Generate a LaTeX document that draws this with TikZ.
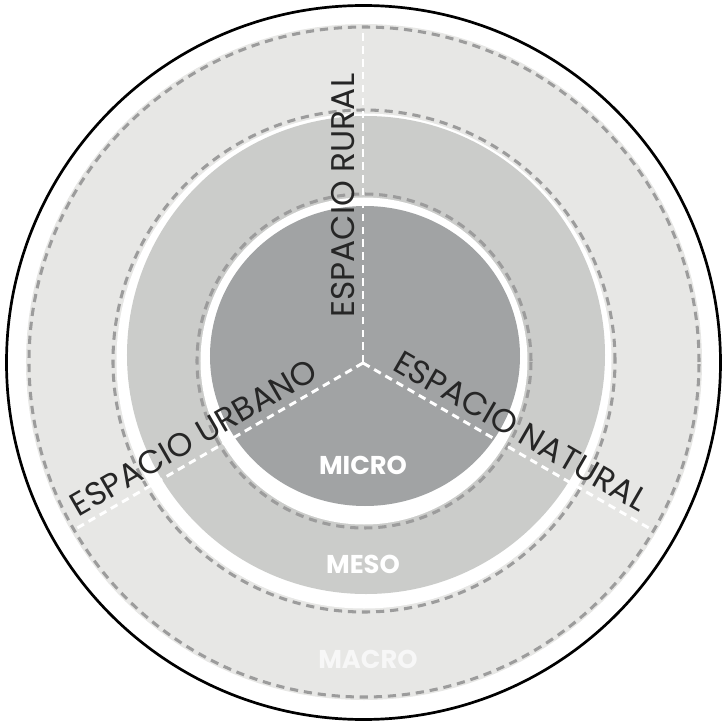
\documentclass[tikz,border=0pt]{standalone}
\usepackage{fontspec}
\setmainfont{Poppins}
\definecolor{macrogray}{HTML}{E7E7E5}
\definecolor{mesogray}{HTML}{CBCCCA}
\definecolor{microgray}{HTML}{A1A3A4}
\definecolor{ringdash}{HTML}{9C9C9C}
\tikzset{
  ringline/.style={ringdash, line width=2.6pt, dash pattern=on 7pt off 5pt},
  spokeline/.style={white, line width=2.5pt, dash pattern=on 6.5pt off 4.5pt},
  zonelabel/.style={white, font=\bfseries\fontsize{22}{22}\selectfont},
  spacelabel/.style={text=black!85, font=\fontsize{28}{28}\selectfont, sloped, above=5pt, inner sep=1pt}
}
\begin{document}
\begin{tikzpicture}[x=0.03cm, y=0.03cm]
        \useasboundingbox (-363,-362) rectangle (358,363);
        \coordinate (O) at (0,0);

        % Outer circle
        \draw[line width=2.3pt] (0.5,0.5) circle (357);

        % Macro
        \fill[macrogray] (1,1) circle (338);
        \draw[ringline] (1,1) circle (335);

        % Meso
        \draw[ringline] (1,2) circle (251);
        \fill[white] (1,2) circle (247.5);
        \fill[mesogray] (3,8) circle (239);

        % Micro
        \draw[ringline] (1,2) circle (167);
        \fill[white] (1,2) circle (163.5);
        \fill[microgray] (2,7) ellipse (155 and 150);

        % Spokes
        \foreach \a/\p/\t in {90/0.5/ESPACIO RURAL, 210/0.55/ESPACIO URBANO, 330/0.51/ESPACIO NATURAL} {
            \draw[spokeline] (O) -- (\a:335) node[spacelabel, pos=\p] (space\a) {\t};
        }

        % Scales
        \node[zonelabel] (micro) at (0,-102) {MICRO};
        \node[zonelabel] (meso) at (0,-201) {MESO};
        \node[zonelabel, text=white!97!black] (macro) at (5,-296) {MACRO};
    \end{tikzpicture}
\end{document}
